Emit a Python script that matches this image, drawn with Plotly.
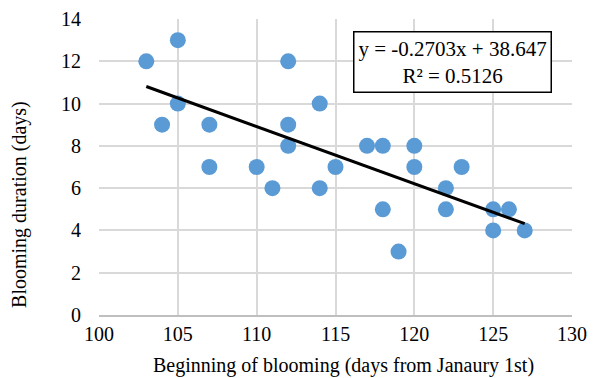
import plotly.graph_objects as go

start_day = [103, 104, 105, 105, 107, 107, 110, 111, 112, 112, 112, 114, 114, 115,
             117, 118, 118, 119, 120, 120, 122, 122, 123, 125, 125, 126, 127]
duration = [12, 9, 13, 10, 9, 7, 7, 6, 12, 9, 8, 10, 6, 7,
            8, 8, 5, 3, 8, 7, 6, 5, 7, 5, 4, 5, 4]
slope, intercept = -0.2703, 38.647
trend_x = [min(start_day), max(start_day)]
trend_y = [slope * v + intercept for v in trend_x]

font = "Liberation Serif, Times New Roman, serif"
fig = go.Figure()
fig.add_trace(go.Scatter(x=start_day, y=duration, mode="markers",
                         marker=dict(color="#5b9bd5", size=16, line=dict(width=0)),
                         showlegend=False))
fig.add_trace(go.Scatter(x=trend_x, y=trend_y, mode="lines",
                         line=dict(color="black", width=3), showlegend=False))

fig.update_layout(
    width=598, height=378,
    margin=dict(l=99, r=26, t=19, b=63),
    paper_bgcolor="white", plot_bgcolor="white",
    font=dict(family=font, size=20, color="black"),
    xaxis=dict(range=[100, 130], dtick=5, showgrid=True, gridcolor="#d9d9d9", gridwidth=1.5,
               zeroline=False, showline=True, linecolor="#bfbfbf", linewidth=1.5,
               ticks="", tickfont=dict(size=20, family=font), automargin=False),
    yaxis=dict(range=[0, 14], dtick=2, showgrid=True, gridcolor="#d9d9d9", gridwidth=1.5,
               zeroline=False, showline=False,
               ticks="outside", ticklen=13, tickcolor="white",
               tickfont=dict(size=20, family=font), automargin=False),
    annotations=[
        dict(x=122.45, y=11.97, xref="x", yref="y",
             text="y = -0.2703x + 38.647<br>R² = 0.5126", showarrow=False,
             font=dict(size=21, family=font), align="center",
             bordercolor="black", borderwidth=1.5, borderpad=4, bgcolor="white"),
        dict(x=0.516, y=-0.172, xref="paper", yref="paper", xanchor="center", yanchor="middle",
             text="Beginning of blooming (days from Janaury 1st)", showarrow=False,
             font=dict(size=20, family=font)),
        dict(x=-0.167, y=0.372, xref="paper", yref="paper", xanchor="center", yanchor="middle",
             text="Blooming duration (days)", showarrow=False, textangle=-90,
             font=dict(size=20, family=font)),
    ],
)
fig.write_html("out.html")
